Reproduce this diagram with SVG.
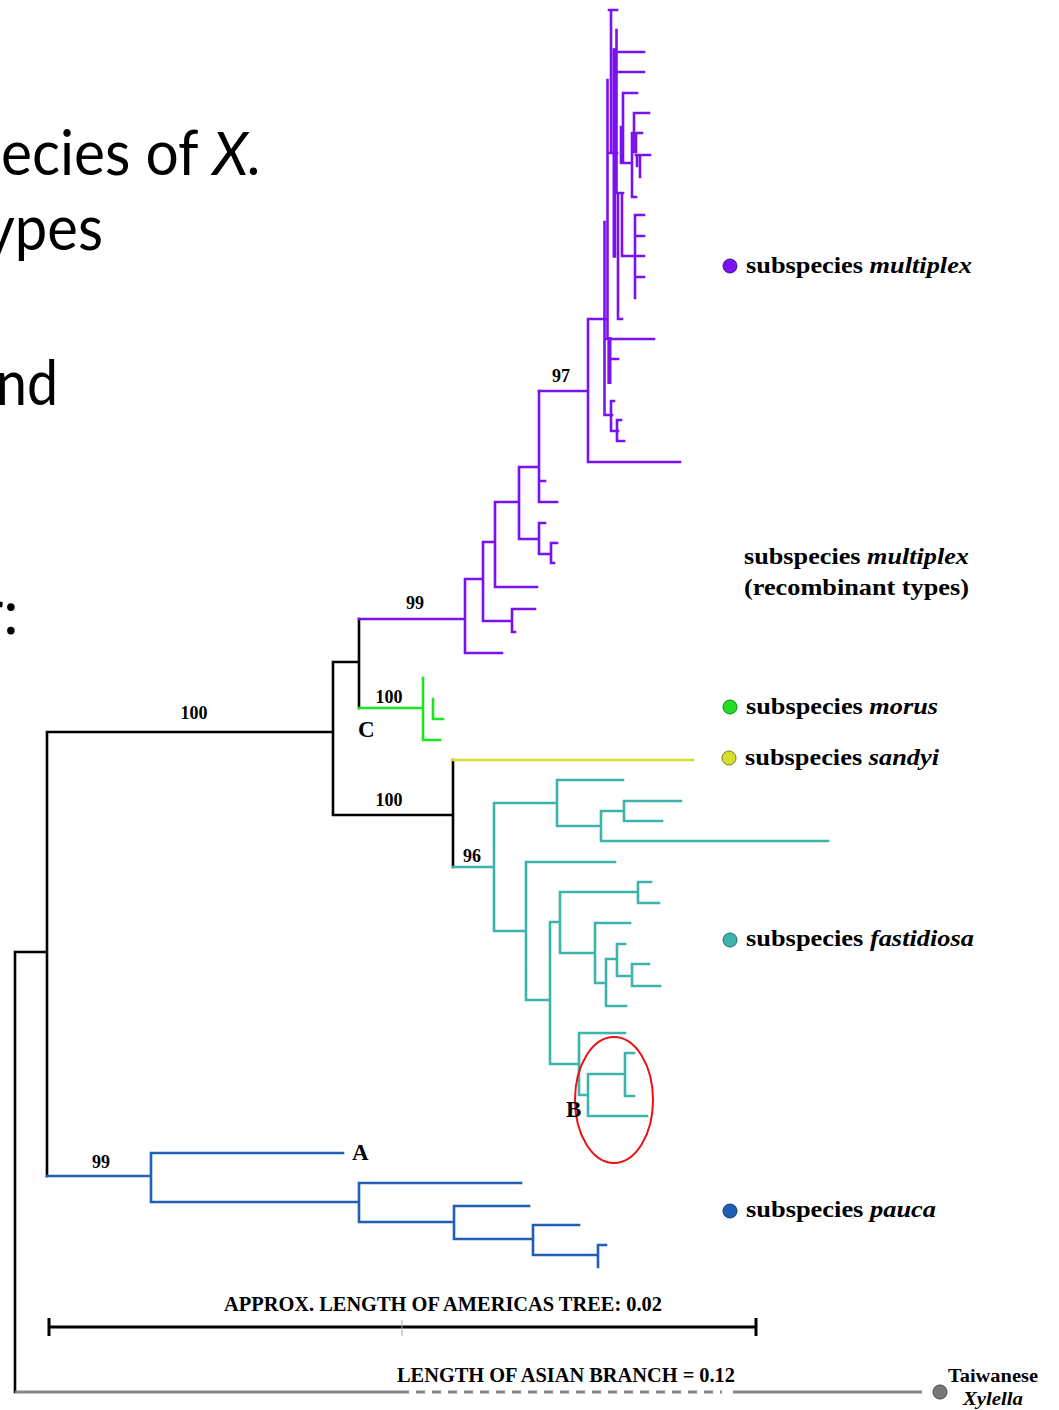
<svg xmlns="http://www.w3.org/2000/svg" width="1059" height="1410" viewBox="0 0 1059 1410">
<style>
.bg{fill:#fff}
.br{fill:none;stroke-width:2.6;stroke-linecap:square;stroke-linejoin:miter}
.blk{stroke:#000}
.pur{stroke:#7a12f0}
.grn{stroke:#1ee61e}
.yel{stroke:#d6de2e}
.tea{stroke:#3cb4ac}
.blu{stroke:#1f5fb5}
.slide{font-family:Lato,"Open Sans",sans-serif;font-size:61px;fill:#000}
.lab{font-family:"Liberation Serif","Times New Roman",serif;font-weight:bold;font-size:24px;fill:#000}
.bs{font-family:"Liberation Serif","Times New Roman",serif;font-weight:bold;font-size:18px;fill:#000}
.let{font-family:"Liberation Serif","Times New Roman",serif;font-weight:bold;font-size:23px;fill:#000}
.sc{font-family:"Liberation Serif","Times New Roman",serif;font-weight:bold;font-size:20px;fill:#000}
.it{font-style:italic}
</style>
<rect class="bg" x="0" y="0" width="1059" height="1410"/>

<g id="slide-text">
<text class="slide" x="1" y="175" textLength="261" lengthAdjust="spacingAndGlyphs">ecies of <tspan class="it">X.</tspan></text>
<text class="slide" x="-15" y="250" textLength="118" lengthAdjust="spacingAndGlyphs">ypes</text>
<text class="slide" x="-4" y="405" textLength="62" lengthAdjust="spacingAndGlyphs">nd</text>
<text class="slide" x="-19" y="634">r:</text>
</g>

<g id="connectors">
<path class="br blk" d="M15 952 V1392 M15 952 H47 M47 732 V1176 M47 732 H333 M333 662 V815 M333 662 H359 M359 619 V708 M333 815 H453 M453 760 V867"/>
<path class="br pur" d="M609 10 H617 M611 10 V153 M608 153 H617 M607.5 80 V339 M616.5 30 V193 M614 50 V256 M616 52 H644 M616 72 H644 M614 193 H623 M623 93 V163 M623 93 H637 M621 127 V163 M621 163 H632 M634 113 V152 M634 113 H649 M632 133 V197 M632 133 H642 M632 197 H636 M636 133 V152 M636 155 H650 M640 155 V177 M637 155 V166 M618 193 V319 M618 319 H622 M622 193 V256 M622 256 H644 M635 215 V298 M635 215 H644 M635 236 H644 M635 277 H644 M604.5 222 V415 M605 415 H612 M588 319 H605 M607 339 H654 M609 339 V382 M609 359 H618 M611 401 V431 M611 401 H614 M611 431 H618 M617 420 V441 M617 420 H621 M617 441 H624 M588 319 V462 M588 462 H680 M539 391 H588"/>
<path class="br pur" d="M609.5 339 V382" style="stroke-width:4"/>
<path class="br pur" d="M614.5 50 V256" style="stroke-width:3.5"/>
<path class="br pur" d="M539 391 V502 M519 467 H539 M539 481 H545 M539 502 H557 M519 467 V539 M519 539 H539 M539 523 V554 M539 523 H545 M539 554 H551 M551 543 V563 M551 543 H557 M551 563 H554 M495 502 H519 M495 502 V587 M495 587 H537 M483 542 H495 M483 542 V621 M483 621 H512 M512 609 V632 M512 609 H535 M512 632 H515 M465 579 V653 M465 579 H483 M465 653 H502 M359 619 H465"/>
<path class="br grn" d="M359 708 H423 M423 678 V740 M423 740 H440 M433 699 V719 M433 719 H443"/>
<path class="br yel" d="M453 760 H693"/>
<path class="br tea" d="M453 867 H494 M494 803 V931 M494 803 H557 M557 780 V826 M557 780 H623 M557 826 H601 M601 811 V841 M601 811 H624 M601 841 H828 M624 801 V821 M624 801 H681 M624 821 H662 M494 931 H526 M526 862 V1000 M526 862 H615 M526 1000 H550 M550 922 V1064 M550 922 H560 M560 892 V953 M560 892 H638 M638 882 V903 M638 882 H651 M638 903 H659 M560 953 H595 M595 923 V983 M595 923 H630 M595 983 H606 M606 959 V1006 M606 959 H617 M606 1006 H626 M617 944 V976 M617 944 H625 M617 976 H632 M632 964 V986 M632 964 H649 M632 986 H660 M550 1064 H579 M579 1033 V1095 M579 1033 H625 M579 1095 H588 M588 1074 V1116 M588 1074 H625 M625 1053 V1096 M625 1053 H634 M625 1096 H634 M588 1116 H647"/>
<path class="br blu" d="M47 1176 H151 M151 1153 V1202 M151 1153 H343 M151 1202 H359 M359 1183 V1222 M359 1183 H521 M359 1222 H454 M454 1206 V1239 M454 1206 H529 M454 1239 H533 M533 1225 V1255 M533 1225 H579 M533 1255 H598 M598 1245 V1267 M598 1245 H606"/>
<path d="M15 1392 H400 M733 1392 H922" fill="none" stroke="#8a8686" stroke-width="3"/>
<path d="M400 1392 H722" fill="none" stroke="#8a8686" stroke-width="3" stroke-dasharray="9 7"/>
</g>

<g id="highlight-B">
<ellipse cx="614" cy="1100" rx="39" ry="63" fill="none" stroke="#ee1111" stroke-width="2"/>
</g>

<g id="support-values">
<text class="bs" x="561" y="382" text-anchor="middle">97</text>
<text class="bs" x="415" y="609" text-anchor="middle">99</text>
<text class="bs" x="194" y="719" text-anchor="middle">100</text>
<text class="bs" x="389" y="703" text-anchor="middle">100</text>
<text class="bs" x="389" y="806" text-anchor="middle">100</text>
<text class="bs" x="472" y="862" text-anchor="middle">96</text>
<text class="bs" x="101" y="1168" text-anchor="middle">99</text>
</g>

<g id="clade-letters">
<text class="let" x="358" y="737">C</text>
<text class="let" x="566" y="1117">B</text>
<text class="let" x="352" y="1160">A</text>
</g>

<g id="node-multiplex">
<circle cx="730" cy="266" r="7" fill="#7a12f0" stroke="#4a0a90" stroke-width="1"/>
<text class="lab" x="746" y="273" textLength="226" lengthAdjust="spacingAndGlyphs">subspecies <tspan class="it">multiplex</tspan></text>
</g>
<g id="node-recombinant">
<text class="lab" x="744" y="564" textLength="225" lengthAdjust="spacingAndGlyphs">subspecies <tspan class="it">multiplex</tspan></text>
<text class="lab" x="744" y="595" textLength="225" lengthAdjust="spacingAndGlyphs">(recombinant types)</text>
</g>
<g id="node-morus">
<circle cx="730" cy="707" r="7" fill="#22dd22" stroke="#118811" stroke-width="1"/>
<text class="lab" x="746" y="714" textLength="192" lengthAdjust="spacingAndGlyphs">subspecies <tspan class="it">morus</tspan></text>
</g>
<g id="node-sandyi">
<circle cx="729" cy="758" r="7" fill="#d6de2e" stroke="#7a7a20" stroke-width="1"/>
<text class="lab" x="745" y="765" textLength="194" lengthAdjust="spacingAndGlyphs">subspecies <tspan class="it">sandyi</tspan></text>
</g>
<g id="node-fastidiosa">
<circle cx="730" cy="940" r="7" fill="#3cb4ac" stroke="#1f6f6a" stroke-width="1"/>
<text class="lab" x="746" y="946" textLength="228" lengthAdjust="spacingAndGlyphs">subspecies <tspan class="it">fastidiosa</tspan></text>
</g>
<g id="node-pauca">
<circle cx="730" cy="1211" r="7" fill="#1f5fb5" stroke="#0f3570" stroke-width="1"/>
<text class="lab" x="746" y="1217" textLength="190" lengthAdjust="spacingAndGlyphs">subspecies <tspan class="it">pauca</tspan></text>
</g>

<g id="scale-americas">
<text class="sc" x="224" y="1311" textLength="438" lengthAdjust="spacingAndGlyphs">APPROX. LENGTH OF AMERICAS TREE: 0.02</text>
<path d="M49 1327 H756 M49 1318 V1336 M756 1318 V1336" fill="none" stroke="#000" stroke-width="3"/>
<path d="M402 1320 V1336" fill="none" stroke="#aaa" stroke-width="1"/>
</g>

<g id="node-taiwanese">
<text class="sc" x="397" y="1382" textLength="338" lengthAdjust="spacingAndGlyphs">LENGTH OF ASIAN BRANCH = 0.12</text>
<circle cx="940" cy="1392" r="7" fill="#777" stroke="#444" stroke-width="1"/>
<text class="bs" x="948" y="1382" textLength="90" lengthAdjust="spacingAndGlyphs">Taiwanese</text>
<text class="bs it" x="963" y="1405" textLength="60" lengthAdjust="spacingAndGlyphs">Xylella</text>
</g>
</svg>
